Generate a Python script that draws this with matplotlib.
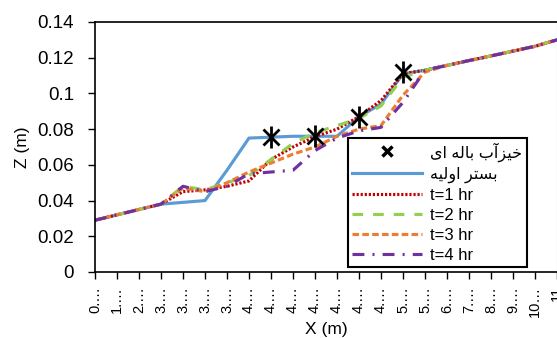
import matplotlib
matplotlib.use("Agg")
import matplotlib.pyplot as plt
from matplotlib.lines import Line2D
import numpy as np

plt.rcParams['font.family'] = ['Liberation Sans', 'DejaVu Sans']

# category labels on the x axis (Excel line chart, truncated labels)
x_labels = ["0.…", "1.…", "2.…", "3.…", "3.…", "3.…", "3.…", "4.…", "4.…", "4.…", "4.…",
            "4.…", "4.…", "4.…", "5.…", "5.…", "6.…", "7.…", "8.…", "9.…", "10…", "11"]

bed = [0.029, 0.032, 0.035, 0.038, 0.039, 0.040, 0.057, 0.075, 0.0755, 0.076, 0.076,
       0.076, 0.087, 0.094, 0.111, 0.113, 0.1157, 0.1184, 0.121, 0.1237, 0.1264, 0.130]
t1 = [0.029, 0.032, 0.035, 0.038, 0.045, 0.046, 0.048, 0.051, 0.063, 0.070, 0.0758,
      0.080, 0.087, 0.096, 0.111, 0.113, 0.1157, 0.1184, 0.121, 0.1237, 0.1264, 0.130]
t2 = [0.029, 0.032, 0.035, 0.038, 0.048, 0.046, 0.050, 0.054, 0.063, 0.072, 0.078,
      0.082, 0.086, 0.093, 0.109, 0.113, 0.1157, 0.1184, 0.121, 0.1237, 0.1264, 0.130]
t3 = [0.029, 0.032, 0.035, 0.038, 0.047, 0.045, 0.050, 0.056, 0.061, 0.066, 0.070,
      0.076, 0.080, 0.082, 0.099, 0.112, 0.1157, 0.1184, 0.121, 0.1237, 0.1264, 0.130]
t4 = [0.029, 0.032, 0.035, 0.038, 0.048, 0.045, 0.048, 0.055, 0.056, 0.057, 0.068,
      0.075, 0.079, 0.081, 0.095, 0.113, 0.1157, 0.1184, 0.121, 0.1237, 0.1264, 0.130]
# hydraulic jump points
jump = [np.nan] * 8 + [0.0755, np.nan, 0.076, np.nan, 0.087, np.nan, 0.112] + [np.nan] * 7

# Persian labels, pre-shaped (presentation forms, visual order)
jump_label = "\uFEEF\uFE8D \uFEEA\uFEDF\uFE8E\uFE91 \uFE8F\uFE81\uFEB0\uFEF4\uFEA7"   # خیزآب باله ای
bed_label = "\uFEEA\uFEF4\uFEDF\uFEED\uFE8D \uFEAE\uFE98\uFEB4\uFE91"                # بستر اولیه

x = np.arange(len(x_labels))

fig = plt.figure(figsize=(5.57, 3.38), dpi=100)
ax = fig.add_axes([95 / 557, 66 / 338, 462 / 557, 250 / 338])

lw = 2.25
ax.plot(x, bed, color='#5B9BD5', lw=lw, label=bed_label)
ax.plot(x, t1, color='#C00000', lw=lw, dashes=(0.7, 0.6), label='t=1 hr')
ax.plot(x, t2, color='#92D050', lw=lw, dashes=(3.4, 3.2), label='t=2 hr')
ax.plot(x, t3, color='#ED7D31', lw=lw, dashes=(2.1, 1.05), label='t=3 hr')
ax.plot(x, t4, color='#7030A0', lw=lw, dashes=(3.8, 2.6, 0.64, 2.6), label='t=4 hr')
ax.plot(x, jump, ls='none', marker='x', ms=11, mew=2, color='black', zorder=5)
ax.plot(x, jump, ls='none', marker='|', ms=16, mew=2, color='black', zorder=5)

ax.set_xlim(0, len(x) - 1)
ax.set_ylim(0, 0.14)
ax.set_xticks(x)
ax.set_xticklabels(x_labels, rotation=90, fontsize=10.5)
yt = np.arange(0, 0.141, 0.02)
ax.set_yticks(yt)
ax.set_yticklabels(["0", "0.02", "0.04", "0.06", "0.08", "0.1", "0.12", "0.14"], fontsize=13.5)
ax.tick_params(direction='out', length=5, width=1, color='black')
ax.tick_params(axis='x', pad=5)
ax.tick_params(axis='y', pad=10)
ax.set_xlabel("X (m)", fontsize=12.5, labelpad=4)
ax.set_ylabel("Z (m)", fontsize=12.5, labelpad=5)

for s in ['left', 'bottom', 'top']:
    ax.spines[s].set_color('black')
    ax.spines[s].set_linewidth(1.2)
ax.spines['right'].set_color('#BFBFBF')

handles = [Line2D([], [], ls='none', marker='x', ms=7, mew=2.5, color='black')]
h, l = ax.get_legend_handles_labels()
leg = ax.legend(handles + h, [jump_label] + l, loc='upper left',
                bbox_to_anchor=(348 / 557, 1 - 138 / 338), bbox_transform=fig.transFigure,
                fontsize=12, frameon=True, fancybox=False, framealpha=1,
                edgecolor='black', handlelength=4.2, handletextpad=0.5,
                labelspacing=0.3, borderpad=0.25, borderaxespad=0)
leg.get_frame().set_linewidth(1.5)
for t in leg.get_texts()[:2]:
    t.set_fontsize(11.5)

fig.savefig("out.png", dpi=100)
